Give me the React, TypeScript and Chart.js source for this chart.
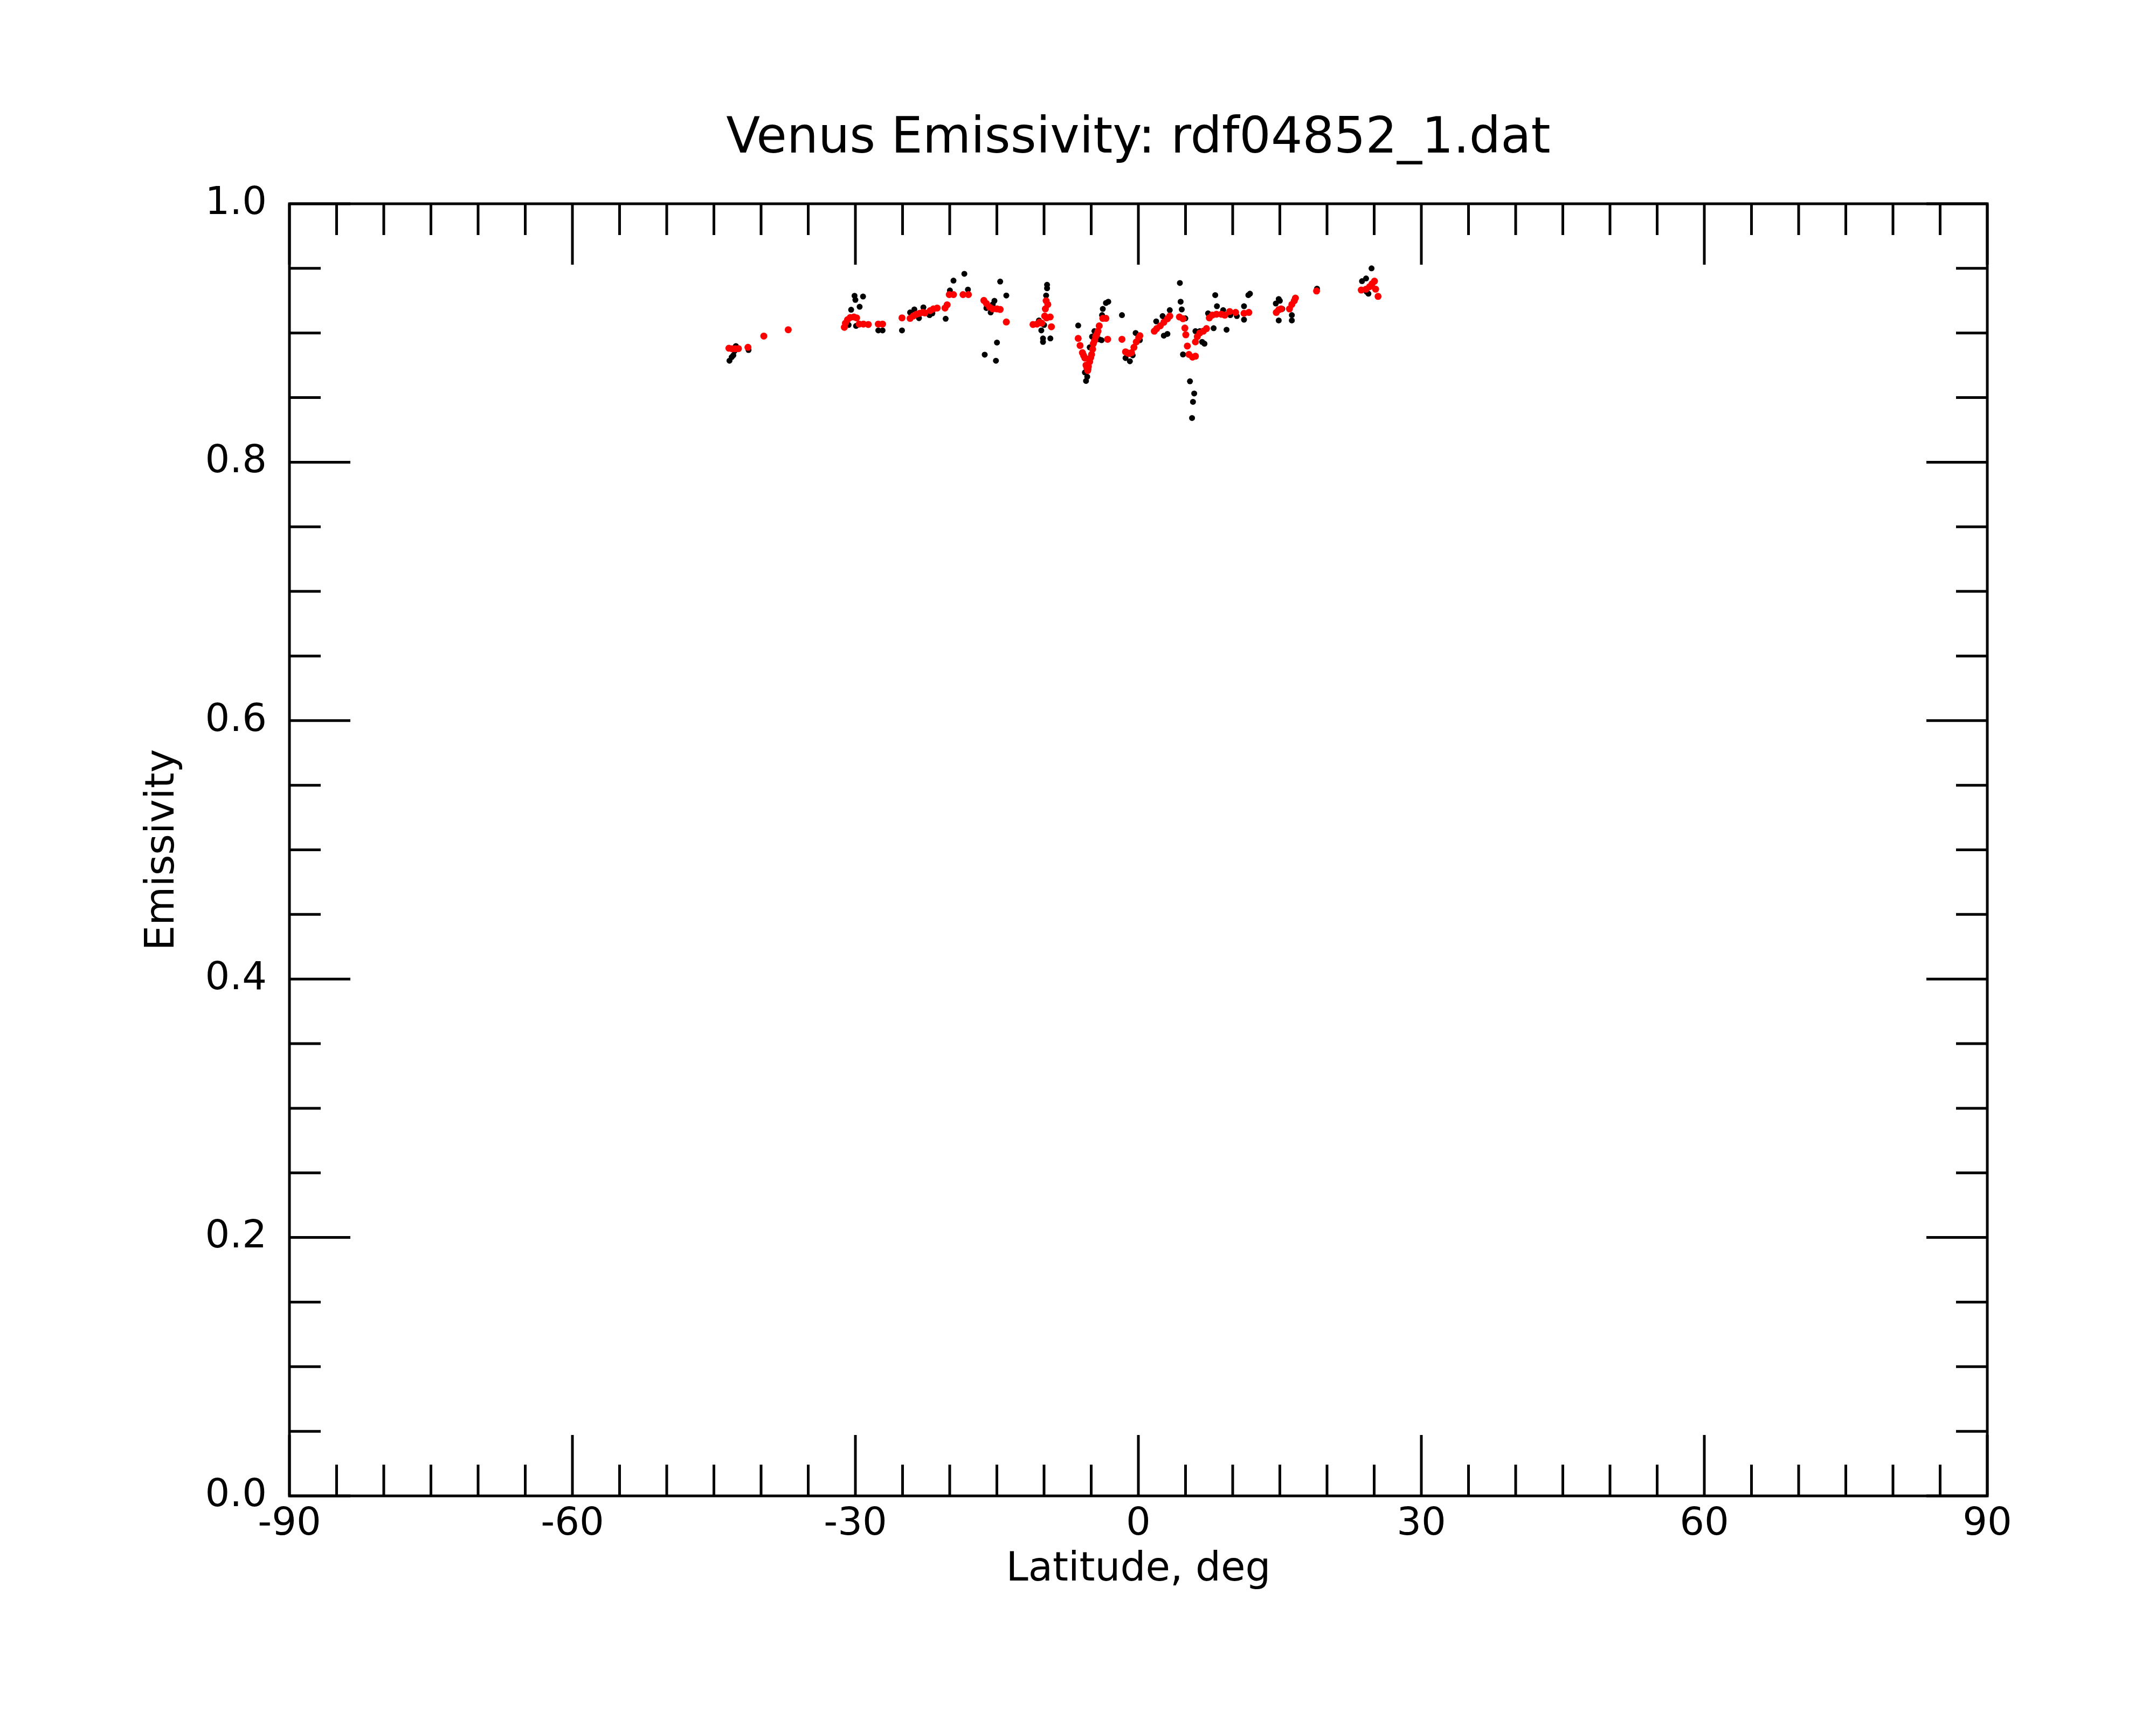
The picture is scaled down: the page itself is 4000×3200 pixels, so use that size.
import { useEffect, useRef } from 'react';
import { Chart, registerables } from 'chart.js';

Chart.register(...registerables);

// raw emissivity samples (black)
const rawLat = [
  -43.35, -43.12, -42.94, -42.67, -42.81, -41.33,
  -30.09, -30.0, -29.19, -29.55, -30.45, -31.06, -30.72, -29.93,
  -27.57, -27.12, -25.06,
  -24.2, -23.75, -23.26, -22.79, -22.14, -21.84, -20.43,
  -19.98, -19.6, -18.45, -18.07,
  -16.11, -15.66, -15.26, -15.44, -14.65, -14.0, -14.99, -16.29, -15.1,
  -9.68, -9.68, -9.78, -10.54, -10.29, -10.11, -10.11, -9.33, -9.99,
  -6.38, -5.55, -5.42, -5.67, -4.66, -4.91, -4.15, -3.9, -5.16, -5.3,
  -3.77, -3.44, -3.19, -3.85, -3.64, -1.74,
  -1.36, -0.9, -0.6, -0.29, 0.16,
  1.89, 2.57, 2.83, 3.33, 2.7, 3.08,
  4.4, 4.48, 4.6, 4.98, 4.73, 5.47, 5.92, 5.79, 5.69,
  6.05, 6.51, 6.76, 7.01, 7.39, 7.52, 8.15, 8.33, 8.99, 7.98, 9.35, 9.75, 10.44,
  11.2, 11.2, 11.66, 11.83,
  14.57, 14.88, 15.0, 14.88, 15.26, 16.27, 16.27,
  18.94, 24.72, 24.14, 23.71, 24.39, 24.21,
];
const rawEmis = [
  0.8785, 0.8813, 0.8827, 0.8899, 0.8861, 0.8868,
  0.9288, 0.9256, 0.9282, 0.9203, 0.918, 0.9076, 0.9062, 0.9055,
  0.902, 0.902, 0.902,
  0.9159, 0.9182, 0.9115, 0.9198, 0.9138, 0.9152, 0.911,
  0.9329, 0.9405, 0.9458, 0.9336,
  0.9193, 0.9159, 0.9249, 0.9221, 0.9398, 0.929, 0.8926, 0.8832, 0.8785,
  0.9373, 0.9346, 0.929, 0.9097, 0.902, 0.8958, 0.8931, 0.8958, 0.9062,
  0.9058, 0.8629, 0.8661, 0.8695, 0.9014, 0.8972, 0.8951, 0.8944, 0.8889, 0.872,
  0.9186, 0.9232, 0.9242, 0.9138, 0.9117, 0.9138,
  0.8806, 0.8781, 0.8827, 0.9, 0.8944,
  0.909, 0.9131, 0.911, 0.9177, 0.8979, 0.8993,
  0.9387, 0.9242, 0.9182, 0.9113, 0.8834, 0.8626, 0.8532, 0.8467, 0.8342,
  0.9014, 0.9014, 0.8931, 0.8917, 0.9152, 0.9117, 0.9293, 0.9207, 0.9177, 0.9037, 0.9025, 0.9138, 0.9131,
  0.9207, 0.9103, 0.9293, 0.9304,
  0.9228, 0.9263, 0.9249, 0.9097, 0.9186, 0.9138, 0.9097,
  0.9343, 0.95, 0.9422, 0.9401, 0.9304, 0.9318,
];

// filtered emissivity (red)
const fitLat = [
  -43.41, -43.08, -42.74, -42.4, -41.39, -39.71, -37.12,
  -31.17, -31.06, -30.83, -30.54, -30.16, -29.87, -29.6, -29.15, -28.63, -27.57, -27.12,
  -25.06, -24.2, -23.87, -23.53, -23.19, -22.85, -22.63, -22.07, -21.73, -21.33,
  -20.5, -20.27, -20.05, -19.6, -18.59, -18.02,
  -16.38, -16.11, -15.78, -15.44, -14.99, -14.65, -14.0,
  -11.17, -10.75, -10.5, -10.24, -9.93, -9.86, -9.78, -9.73, -9.6, -9.35, -9.22,
  -6.38, -6.18, -5.93, -5.8, -5.67, -5.55, -5.45, -5.37, -5.3, -5.16, -5.05, -4.96, -4.85, -4.78, -4.65, -4.53, -4.4, -4.28, -4.15, -3.77, -3.44,
  -3.26, -1.74,
  -1.36, -1.15, -0.98, -0.73, -0.47, -0.22, 0.04, 0.16,
  1.69, 1.94, 2.32, 2.7, 3.08, 3.33,
  4.35, 4.73, 4.93, 5.03, 5.19, 5.36, 5.74, 6.05,
  6.05, 6.25, 6.51, 6.89, 7.22,
  7.52, 7.83, 8.28, 8.79, 9.17, 9.68, 10.31, 11.2, 11.71,
  14.62, 14.88, 15.13, 16.02, 16.27, 16.53, 16.65,
  18.89, 23.63, 24.14, 24.52, 24.77, 25.03, 25.15, 25.41,
];
const fitEmis = [
  0.8882, 0.8878, 0.8878, 0.8879, 0.8889, 0.8976, 0.9025,
  0.9044, 0.9076, 0.9103, 0.912, 0.9124, 0.9117, 0.9069, 0.9069, 0.9066, 0.9069, 0.9069,
  0.9117, 0.9113, 0.9131, 0.9145, 0.9152, 0.9159, 0.9155, 0.9173, 0.9186, 0.9193,
  0.9193, 0.9218, 0.9297, 0.9297, 0.9297, 0.9297,
  0.9252, 0.9228, 0.92, 0.9186, 0.9186, 0.9182, 0.9085,
  0.9066, 0.9069, 0.9083, 0.9076, 0.9131, 0.9186, 0.9249, 0.9117, 0.9221, 0.9124, 0.9048,
  0.8958, 0.8903, 0.8847, 0.8825, 0.8806, 0.8751, 0.873, 0.8709, 0.874, 0.8778, 0.881, 0.8834, 0.8875, 0.8917, 0.894, 0.8972, 0.899, 0.9014, 0.9055, 0.9113, 0.9113,
  0.8951, 0.8951,
  0.8854, 0.8845, 0.8841, 0.8847, 0.8889, 0.8931, 0.8965, 0.8979,
  0.9014, 0.9034, 0.9055, 0.9083, 0.911, 0.9131,
  0.9124, 0.911, 0.9038, 0.8986, 0.8899, 0.8834, 0.8813, 0.882,
  0.8931, 0.8972, 0.9, 0.9014, 0.9034,
  0.9117, 0.9138, 0.9145, 0.9145, 0.9138, 0.9166, 0.9159, 0.9152, 0.9159,
  0.9159, 0.918, 0.9186, 0.9186, 0.9221, 0.9249, 0.927,
  0.9325, 0.9332, 0.9339, 0.9359, 0.938, 0.9401, 0.9339, 0.9283,
];

const xTicks = [-90, -60, -30, 0, 30, 60, 90];
const yTicks = [0, 0.2, 0.4, 0.6, 0.8, 1.0];

const frameTicks = {
  id: 'frameTicks',
  beforeDatasetsDraw(chart: any) {
    const { ctx, chartArea: a, scales } = chart;
    const xs = scales.x;
    const ys = scales.y;
    ctx.save();
    ctx.strokeStyle = '#000';
    ctx.lineWidth = 5;
    ctx.strokeRect(a.left, a.top, a.right - a.left, a.bottom - a.top);
    ctx.beginPath();
    for (let v = -90; v <= 90; v += 5) {
      const px = xs.getPixelForValue(v);
      const len = v % 30 === 0 ? 113 : 58;
      ctx.moveTo(px, a.bottom);
      ctx.lineTo(px, a.bottom - len);
      ctx.moveTo(px, a.top);
      ctx.lineTo(px, a.top + len);
    }
    for (let i = 0; i <= 20; i++) {
      const py = ys.getPixelForValue(i * 0.05);
      const len = i % 4 === 0 ? 113 : 58;
      ctx.moveTo(a.left, py);
      ctx.lineTo(a.left + len, py);
      ctx.moveTo(a.right, py);
      ctx.lineTo(a.right - len, py);
    }
    ctx.stroke();
    ctx.restore();
  },
};

const App = () => {
  const canvasRef = useRef<HTMLCanvasElement>(null);

  useEffect(() => {
    if (!canvasRef.current) return;
    Chart.defaults.font.family = "'DejaVu Sans', sans-serif";
    Chart.defaults.color = '#000';
    const chart = new Chart(canvasRef.current, {
      type: 'scatter',
      data: {
        datasets: [
          {
            label: 'filtered',
            data: fitLat.map((x, i) => ({ x, y: fitEmis[i] })),
            backgroundColor: '#ff0000',
            borderWidth: 0,
            pointRadius: 6.5,
            order: 0,
          },
          {
            label: 'raw',
            data: rawLat.map((x, i) => ({ x, y: rawEmis[i] })),
            backgroundColor: '#000000',
            borderWidth: 0,
            pointRadius: 5.5,
            order: 1,
          },
        ],
      },
      plugins: [frameTicks],
      options: {
        animation: false,
        responsive: true,
        maintainAspectRatio: false,
        devicePixelRatio: 1,
        layout: { padding: { left: 0, right: 313, top: 0, bottom: 0 } },
        plugins: {
          legend: { display: false },
          tooltip: { enabled: false },
          title: {
            display: true,
            text: 'Venus Emissivity: rdf04852_1.dat',
            fullSize: false,
            color: '#000',
            font: { size: 92, weight: 'normal' },
            padding: { top: 204, bottom: 63.6 },
          },
        },
        scales: {
          x: {
            type: 'linear',
            min: -90,
            max: 90,
            afterBuildTicks: (s: any) => {
              s.ticks = xTicks.map((value) => ({ value }));
            },
            afterFit: (s: any) => {
              s.height = 425;
            },
            grid: { display: false, drawTicks: false },
            border: { display: false },
            ticks: {
              autoSkip: false,
              maxRotation: 0,
              padding: 10,
              font: { size: 72 },
              color: '#000',
              callback: (v: any) => String(v),
            },
            title: {
              display: true,
              text: 'Latitude, deg',
              color: '#000',
              font: { size: 74 },
              padding: { top: 0, bottom: 243 },
            },
          },
          y: {
            type: 'linear',
            min: 0,
            max: 1,
            afterBuildTicks: (s: any) => {
              s.ticks = yTicks.map((value) => ({ value }));
            },
            afterFit: (s: any) => {
              s.width = 537;
            },
            grid: { display: false, drawTicks: false },
            border: { display: false },
            ticks: {
              autoSkip: false,
              padding: 42,
              font: { size: 72 },
              color: '#000',
              callback: (v: any) => Number(v).toFixed(1),
            },
            title: {
              display: true,
              text: 'Emissivity',
              color: '#000',
              font: { size: 74 },
              padding: { top: 258, bottom: 0 },
            },
          },
        },
      },
    });
    return () => chart.destroy();
  }, []);

  return (
    <div style={{ position: 'absolute', left: 0, top: 0, width: 4000, height: 3200, background: '#fff' }}>
      <canvas ref={canvasRef}></canvas>
    </div>
  );
};

export default App;
